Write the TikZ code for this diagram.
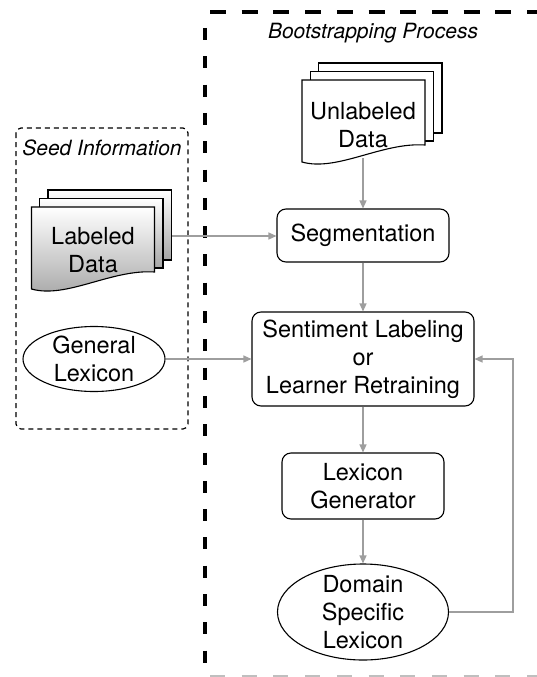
\documentclass[tikz,border=0pt]{standalone}
\usepackage{fontspec}
\setmainfont{TeX Gyre Heros}
\usetikzlibrary{arrows.meta,shapes.geometric}
\def\docstack(#1,#2)#3{%
	\begin{scope}[shift={(#1,#2)}]
		\draw[#3] (16.5,-17) rectangle (140,53);
		\draw[#3] (8.3,-8.5) rectangle (131.5,61);
		\draw[#3] (0,0) -- (123,0) -- (123,65) .. controls (80,62) and (35,92) .. (0,82) -- cycle;
	\end{scope}}
\tikzset{
	flow/.style={draw=black!38, line width=1.3pt, -{Triangle[length=8pt,width=7pt]}},
	procbox/.style={draw, rounded corners=9pt, line width=1.1pt, align=center, inner sep=0pt},
	lexellipse/.style={draw, ellipse, line width=1.1pt, align=center, inner sep=-5pt},
	doctext/.style={align=center, inner sep=0pt},
	titletext/.style={font=\fontsize{21}{25}\selectfont\itshape, inner sep=0pt}
}

\begin{document}
\begin{tikzpicture}[x=1pt, y=-1pt, font=\fontsize{23.5}{28}\selectfont]
			%%%%% START %%%%%
			\useasboundingbox (0,0) rectangle (537,677);
			
			% frames
			\draw[line width=4pt, dash pattern=on 16pt off 15.7pt] (210,12) -- (545,12);
			\draw[line width=4.5pt, dash pattern=on 12pt off 16.3pt] (205,28) -- (205,664);
			\draw[line width=2pt, color=black!25, dash pattern=on 15pt off 16.7pt] (210,676) -- (545,676);
			\draw[line width=1.2pt, dash pattern=on 5pt off 4pt, rounded corners=5pt] (16,128) rectangle (188,429);
			
			\node[titletext] (seedtitle) at (102,148) {Seed Information};
			\node[titletext] (boottitle) at (373,33) {Bootstrapping Process};
			
			% document stacks
			\docstack(31.5,207){draw, line width=1.1pt, top color=white, bottom color=black!35}
			\docstack(302,80){draw, line width=1.1pt, fill=white}
			
			\node[doctext] (labeled) at (93,250) {Labeled\\Data};
			\node[doctext, minimum height=66pt] (unlabeled) at (363,125) {Unlabeled\\Data};
			\coordinate (labeledout) at (172,236);
			
			% process
			\node[lexellipse, minimum width=142pt, minimum height=65pt] (genlex) at (94,359) {General\\Lexicon};
			\node[procbox, minimum width=172pt, minimum height=53pt] (seg) at (363,235.5) {Segmentation};
			\node[procbox, minimum width=222pt, minimum height=94pt] (senti) at (363,359) {Sentiment Labeling\\or\\Learner Retraining};
			\node[procbox, minimum width=162pt, minimum height=66pt] (lexgen) at (363,486) {Lexicon\\Generator};
			\node[lexellipse, minimum width=171pt, minimum height=96pt] (dom) at (363,612) {Domain\\Specific\\Lexicon};
			\coordinate (feedback) at (513,612);
			
			% connectors
			\draw[flow] (unlabeled) -- (seg);
			\draw[flow] (labeledout) -- (labeledout -| seg.west);
			\draw[flow] (seg) -- (senti);
			\draw[flow] (genlex) -- (senti);
			\draw[flow] (senti) -- (lexgen);
			\draw[flow] (lexgen) -- (dom);
			\draw[flow] (dom.east) -- (feedback) -- (feedback |- senti.east) -- (senti.east);
			
			%%%%% END %%%%%
\end{tikzpicture}
\end{document}
